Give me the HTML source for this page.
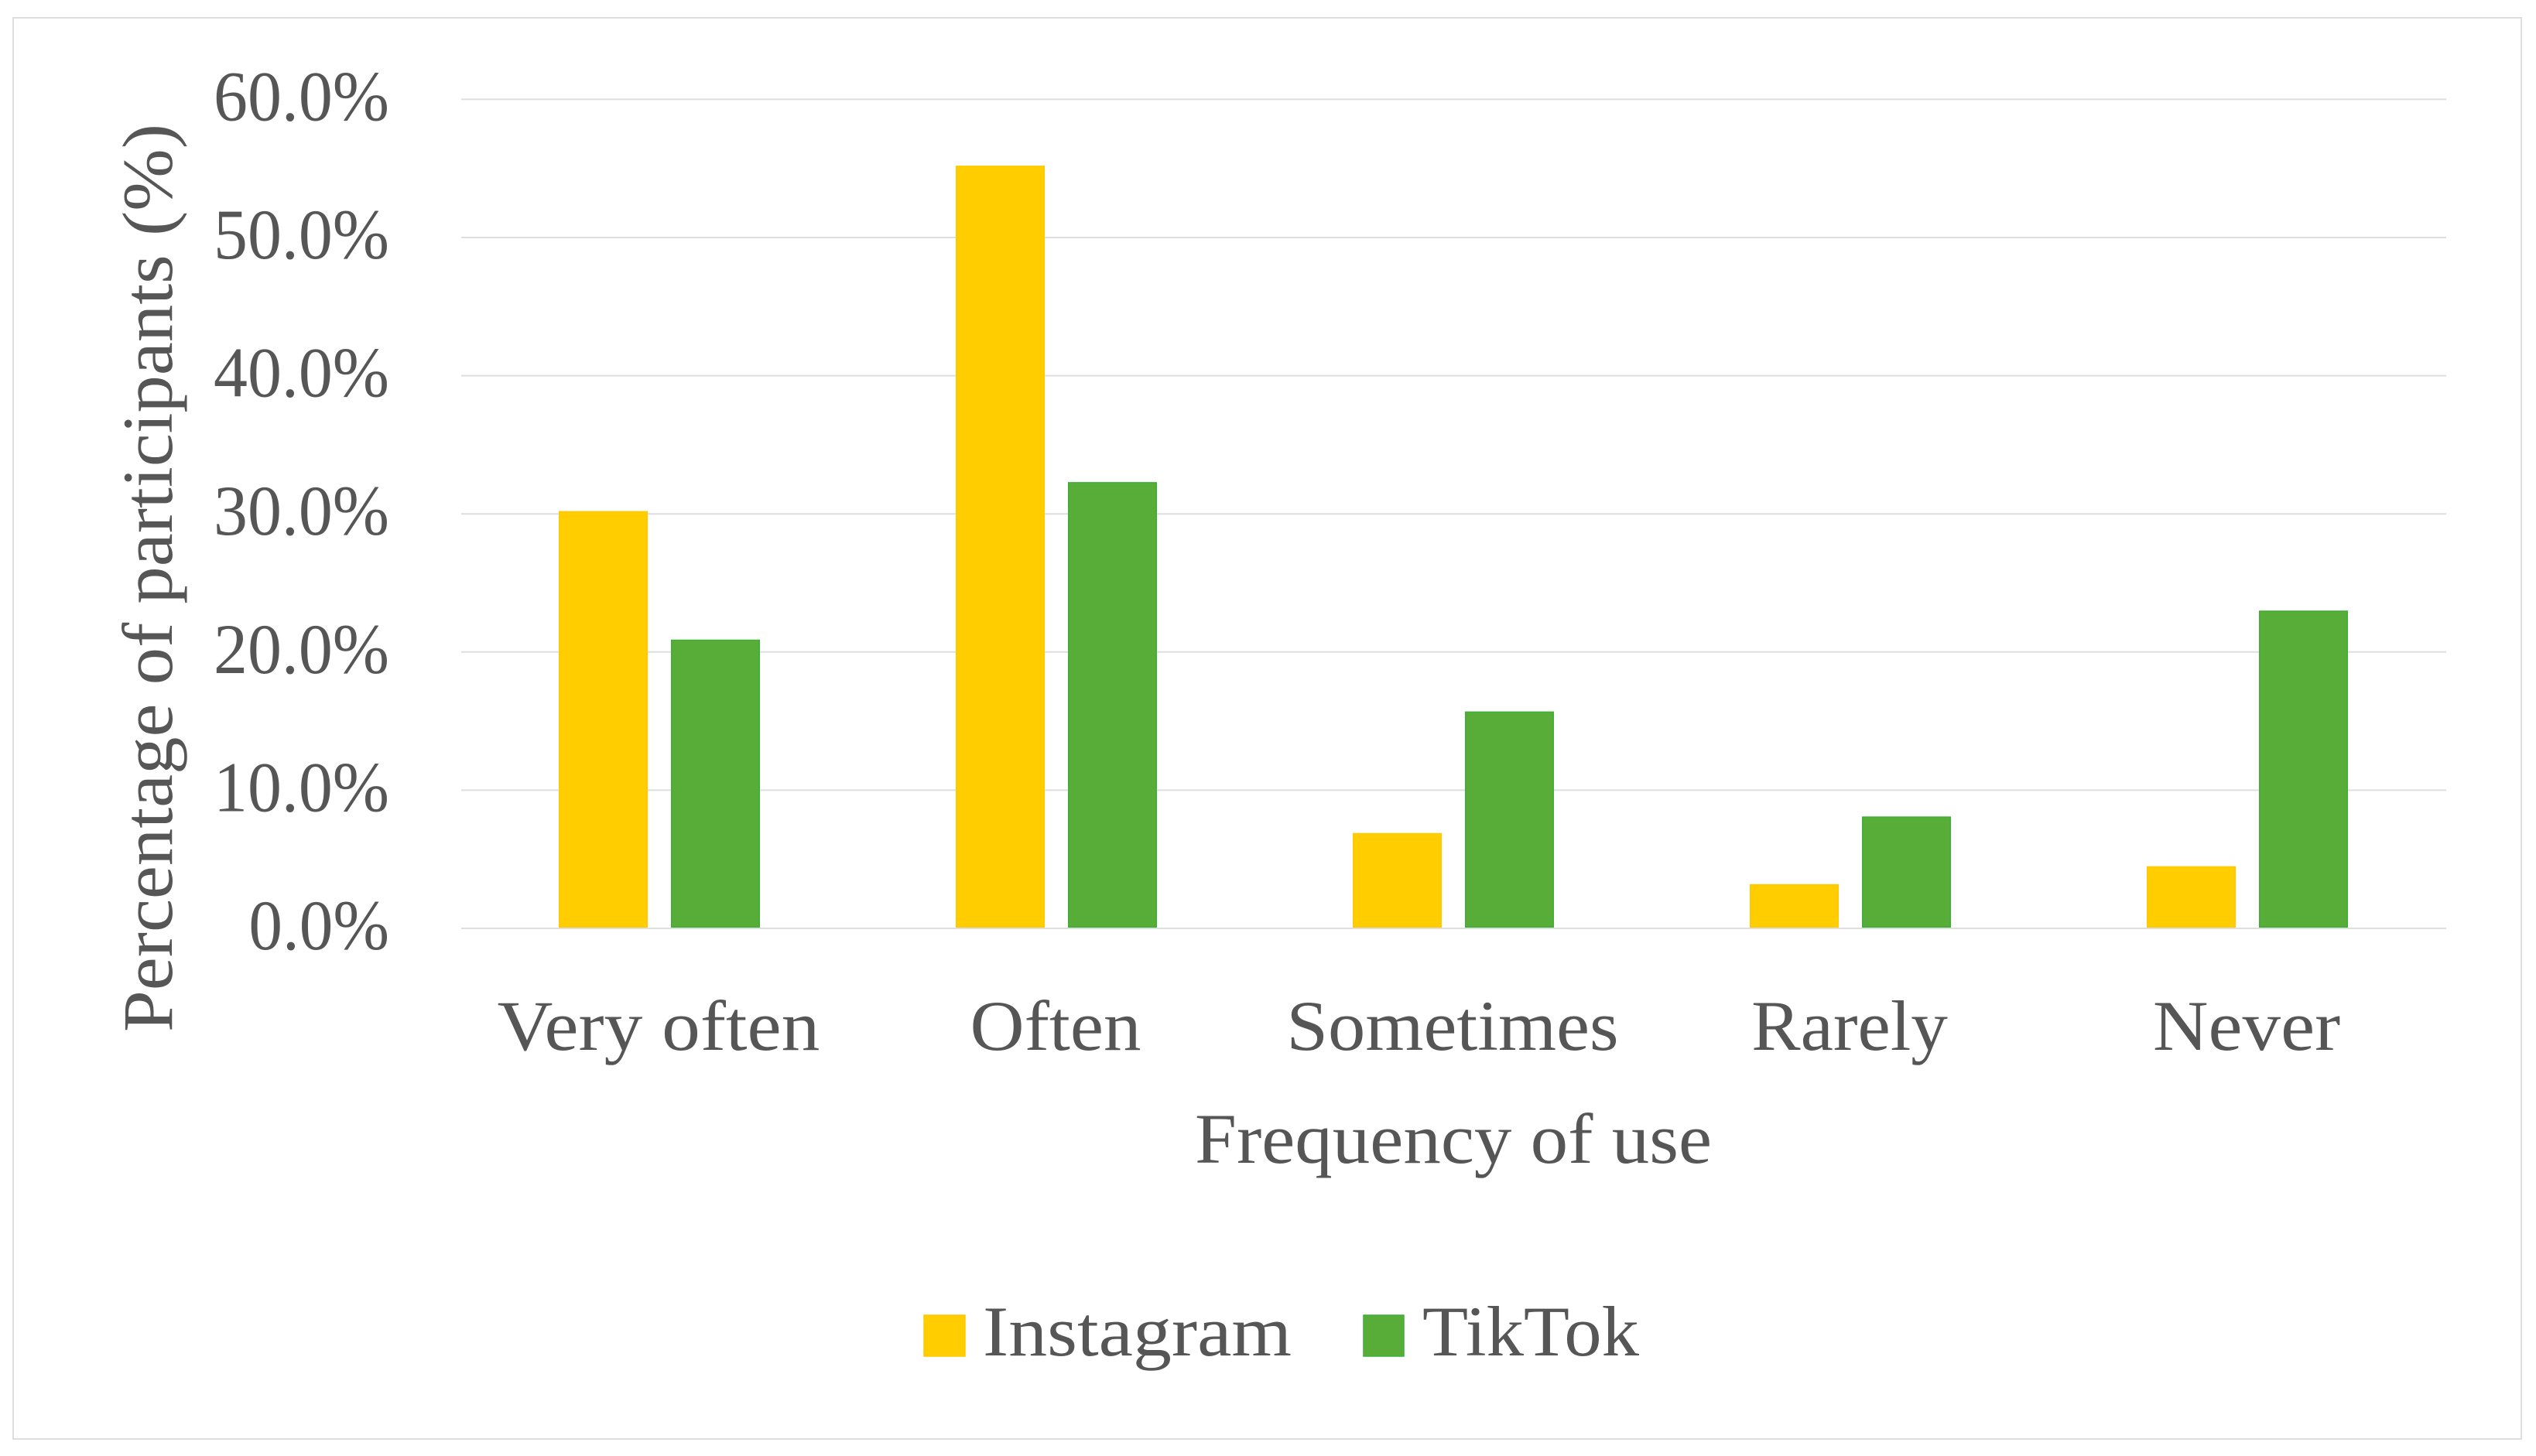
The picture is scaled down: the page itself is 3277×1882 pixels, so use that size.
<!DOCTYPE html>
<html lang="en">
<head>
<meta charset="utf-8">
<title>Frequency of use: Instagram and TikTok</title>
<style>
  html, body { margin: 0; padding: 0; background: #ffffff; }
  svg { display: block; }
  text { font-family: "Liberation Serif", serif; font-size: 92px; fill: #565656; }
</style>
</head>
<body>
<svg id="chart" xmlns="http://www.w3.org/2000/svg" width="3277" height="1882" viewBox="0 0 3277 1882">
  <rect x="0" y="0" width="3277" height="1882" fill="#ffffff"/>
  <rect x="17" y="23" width="3241" height="1837" fill="none" stroke="#dedede" stroke-width="2"/>
  <g id="grid"></g>
  <g id="y-ticks"></g>
  <g id="bars"></g>
  <g id="x-ticks"></g>
  <text transform="translate(222 1334) rotate(-90)" x="0" y="0" textLength="1174" lengthAdjust="spacingAndGlyphs">Percentage of participants (%)</text>
  <text x="1544" y="1503" textLength="668" lengthAdjust="spacingAndGlyphs">Frequency of use</text>
  <g>
    <g>
      <rect x="1194" y="1700" width="53" height="53" fill="#ffcd00" stroke="#ffc800" stroke-width="1.5"/>
      <text x="1270" y="1752" textLength="399" lengthAdjust="spacingAndGlyphs">Instagram</text>
    </g>
    <g>
      <rect x="1762" y="1700" width="52" height="53" fill="#58ac38" stroke="#3db035" stroke-width="1.5"/>
      <text x="1838" y="1752" textLength="280" lengthAdjust="spacingAndGlyphs">TikTok</text>
    </g>
  </g>
</svg>
<script>
const categories = ["Very often", "Often", "Sometimes", "Rarely", "Never"];
const instagramValues = [30.2, 55.2, 6.9, 3.2, 4.5];
const tiktokValues = [20.9, 32.3, 15.7, 8.1, 23.0];
const yTicks = [0, 10, 20, 30, 40, 50, 60];

const NS = "http://www.w3.org/2000/svg";
const plot = { left: 596, right: 3161, top: 128.4, bottom: 1200 };
const yMax = 60;
const barWidth = 115;
const barGap = 30;
// Horizontal fit compensating for the substitute serif's narrower advance widths.
const labelFit = { "Very often": 1.08, "Often": 1.055, "Sometimes": 1.05, "Rarely": 1.035, "Never": 1.078 };

function yScale(v) {
  return plot.bottom - (v / yMax) * (plot.bottom - plot.top);
}
function bandCenter(i) {
  const band = (plot.right - plot.left) / categories.length;
  return plot.left + band * (i + 0.5);
}
function make(tag) {
  return document.createElementNS(NS, tag);
}

const gridGroup = document.getElementById("grid");
const yTickGroup = document.getElementById("y-ticks");
yTicks.forEach(function (t) {
  const line = make("line");
  
  
  line.setAttribute("x1", plot.left);
  line.setAttribute("x2", plot.right);
  line.setAttribute("y1", yScale(t));
  line.setAttribute("y2", yScale(t));
  line.setAttribute("stroke", "#dedede");
  line.setAttribute("stroke-width", "2");
  gridGroup.appendChild(line);

  const label = make("text");
  const str = t.toFixed(1) + "%";
  
  
  label.setAttribute("x", 503);
  label.setAttribute("y", yScale(t) + 27);
  label.setAttribute("text-anchor", "end");
  label.setAttribute("textLength", str.length * 45.4);
  label.setAttribute("lengthAdjust", "spacingAndGlyphs");
  label.textContent = str;
  yTickGroup.appendChild(label);
});

const barGroup = document.getElementById("bars");
function drawBar(i, value, xStart, fill, stroke, name) {
  const top = yScale(value);
  const rect = make("rect");
  
  
  rect.setAttribute("x", xStart + 0.75);
  rect.setAttribute("y", top + 0.75);
  rect.setAttribute("width", barWidth - 1.5);
  rect.setAttribute("height", Math.max(0, yScale(0) - 1 - top - 1.5));
  rect.setAttribute("fill", fill);
  rect.setAttribute("stroke", stroke);
  rect.setAttribute("stroke-width", "1.5");
  barGroup.appendChild(rect);
}
categories.forEach(function (c, i) {
  const center = bandCenter(i);
  drawBar(i, instagramValues[i], center - barGap / 2 - barWidth - 0.5, "#ffcd00", "#ffc800", "bar-instagram");
  drawBar(i, tiktokValues[i], center + barGap / 2 - 0.5, "#58ac38", "#3db035", "bar-tiktok");
});

const xTickGroup = document.getElementById("x-ticks");
categories.forEach(function (c, i) {
  const label = make("text");
  
  
  label.setAttribute("x", bandCenter(i) - 1.5);
  label.setAttribute("y", 1357);
  label.setAttribute("text-anchor", "middle");
  label.textContent = c;
  xTickGroup.appendChild(label);
  const fit = labelFit[c] || 1;
  label.setAttribute("textLength", label.getComputedTextLength() * fit);
  label.setAttribute("lengthAdjust", "spacingAndGlyphs");
});
</script>
</body>
</html>
